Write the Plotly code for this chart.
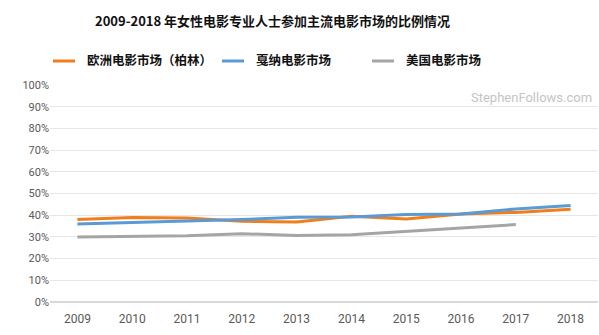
import plotly.graph_objects as go

years = ["2009", "2010", "2011", "2012", "2013", "2014", "2015", "2016", "2017", "2018"]
berlin = [38.0, 38.9, 38.7, 37.2, 36.9, 39.5, 38.3, 40.6, 41.3, 42.7]
cannes = [36.0, 36.8, 37.3, 38.0, 39.0, 39.2, 40.3, 40.6, 42.9, 44.5]
usa = [30.0, 30.2, 30.5, 31.5, 30.6, 31.0, 32.6, 34.2, 35.7]
names = ["欧洲电影市场（柏林）", "戛纳电影市场", "美国电影市场"]
colors = ["#F07F1B", "#5A9BD5", "#A5A5A5"]
yticks = list(range(0, 101, 10))

fig = go.Figure()
for vals, nm, c in zip([berlin, cannes, usa], names, colors):
    fig.add_trace(go.Scatter(x=years[:len(vals)], y=vals, mode="lines", name=nm,
                             line=dict(color=c, width=3), showlegend=False))

font = "Noto Sans CJK SC"
fig.update_layout(
    width=599, height=335,
    margin=dict(l=50, r=1, t=85, b=33),
    paper_bgcolor="white", plot_bgcolor="white",
    showlegend=False,
    font=dict(family=font),
)
fig.update_xaxes(type="category", range=[-0.5, 9.5], showgrid=False, showline=False,
                 ticks="outside", ticklen=6, tickcolor="rgba(0,0,0,0)",
                 tickfont=dict(family="Roboto", size=12, color="#595959"))
fig.update_yaxes(range=[0, 100], tickvals=yticks, ticktext=[f"{v}%" for v in yticks],
                 gridcolor="#E6E6E6", gridwidth=1, zeroline=True, zerolinecolor="#D9D9D9",
                 showline=False, ticks="", ticklen=0,
                 tickfont=dict(family="Roboto", size=11, color="#595959"))

fig.add_annotation(text="<b>2009-2018 年女性电影专业人士参加主流电影市场的比例情况</b>",
                   xref="paper", yref="paper", x=(272-50)/548, y=1, yshift=(85-20),
                   showarrow=False, font=dict(family=font, size=13, color="#111111"),
                   xanchor="center", yanchor="middle")

# legend
leg_x = [53, 222, 372]
for nm, c, lx in zip(names, colors, leg_x):
    fig.add_shape(type="line", xref="paper", yref="paper",
                  x0=(lx-50)/548, x1=(lx+22-50)/548, y0=1+(85-61)/217, y1=1+(85-61)/217,
                  line=dict(color=c, width=3))
    fig.add_annotation(text=f"<b>{nm}</b>", xref="paper", yref="paper",
                       x=(lx+32-50)/548, y=1+(85-60)/217, showarrow=False,
                       xanchor="left", yanchor="middle",
                       font=dict(family=font, size=12.5, color="#111111"))

fig.add_annotation(text="StephenFollows.com", xref="paper", yref="paper",
                   x=(594-50)/548, y=1-(98-85)/217, showarrow=False,
                   xanchor="right", yanchor="middle",
                   font=dict(family="Roboto", size=13, color="#C4C4C4"))

fig.write_html("out.html")
